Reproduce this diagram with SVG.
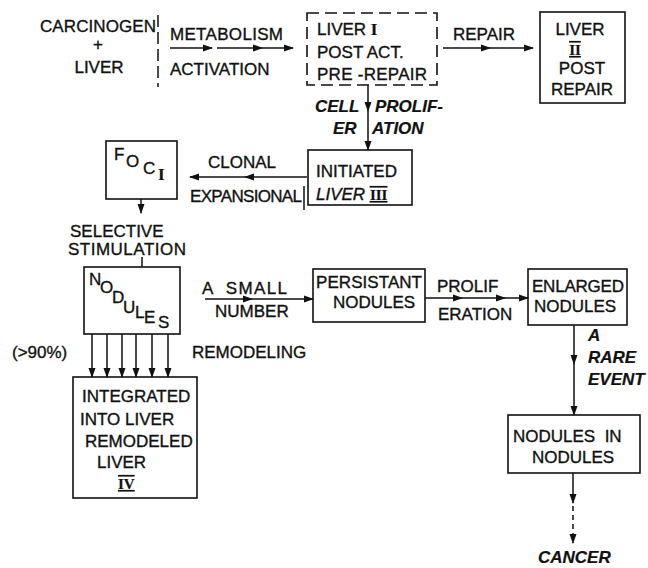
<svg xmlns="http://www.w3.org/2000/svg" width="648" height="568" viewBox="0 0 648 568">
<defs>
<marker id="ah" markerUnits="userSpaceOnUse" markerWidth="10" markerHeight="8" refX="9" refY="4" orient="auto">
<path d="M0,0.5 L10,4 L0,7.5 z" fill="#111"/>
</marker>
</defs>
<style>
text{font-family:"Liberation Sans",Arial,sans-serif;font-size:17px;fill:#111;stroke:#111;stroke-width:0.35}
.it{font-style:italic;font-weight:bold;stroke-width:0.2}
.i2{font-style:italic}
.rn{font-family:"Liberation Serif","Times New Roman",serif;font-weight:bold;stroke-width:0.2}
.sm{font-size:15px}
.box{fill:none;stroke:#111;stroke-width:1.6}
.dash{fill:none;stroke:#111;stroke-width:1.6;stroke-dasharray:12 6}
.c{fill:none;stroke:#111;stroke-width:1.5}
.ar{marker-end:url(#ah)}
.am{marker-mid:url(#ah);marker-end:url(#ah)}
</style>
<rect width="648" height="568" fill="#fff"/>

<g id="start">
<text x="40" y="32" textLength="116">CARCINOGEN</text>
<text x="98" y="50" text-anchor="middle">+</text>
<text x="99" y="73" text-anchor="middle">LIVER</text>
</g>
<g id="liver1">
<rect class="dash" x="307" y="13" width="130" height="72"/>
<text x="317" y="35">LIVER <tspan class="rn">I</tspan></text>
<text x="317" y="58">POST ACT.</text>
<text x="317" y="80" textLength="110">PRE -REPAIR</text>
</g>
<g id="liver2">
<rect class="box" x="540" y="12" width="85" height="91"/>
<text x="580" y="35" text-anchor="middle">LIVER</text>
<text x="575" y="55" text-anchor="middle" class="rn sm" text-decoration="underline overline">II</text>
<text x="582" y="74" text-anchor="middle">POST</text>
<text x="582" y="95" text-anchor="middle">REPAIR</text>
</g>
<g id="liver3">
<rect class="box" x="308" y="150" width="104" height="55"/>
<text x="316" y="177">INITIATED</text>
<text x="316" y="200"><tspan class="i2">LIVER</tspan> <tspan class="rn sm" text-decoration="underline overline">III</tspan></text>
</g>
<g id="foci">
<rect class="box" x="106" y="141" width="71" height="58"/>
<text x="114" y="160">F</text>
<text x="126" y="167">O</text>
<text x="143" y="174">C</text>
<text x="158" y="180" class="rn">I</text>
</g>
<g id="nodules">
<rect class="box" x="84" y="267" width="96" height="67"/>
<text x="89" y="285">N</text>
<text x="100" y="293">O</text>
<text x="112" y="303">D</text>
<text x="123" y="313">U</text>
<text x="135" y="318">L</text>
<text x="144" y="323">E</text>
<text x="158" y="328">S</text>
</g>
<g id="liver4">
<rect class="box" x="73" y="377" width="124" height="121"/>
<text x="82" y="402">INTEGRATED</text>
<text x="80" y="425">INTO LIVER</text>
<text x="85" y="447">REMODELED</text>
<text x="97" y="468">LIVER</text>
<text x="118" y="489" class="rn sm" text-decoration="underline overline">IV</text>
</g>
<g id="persistant">
<rect class="box" x="313" y="269" width="112" height="53"/>
<text x="316" y="288" textLength="106">PERSISTANT</text>
<text x="333" y="308">NODULES</text>
</g>
<g id="enlarged">
<rect class="box" x="528" y="269" width="99" height="56"/>
<text x="532" y="292" textLength="92">ENLARGED</text>
<text x="534" y="312">NODULES</text>
</g>
<g id="nin">
<rect class="box" x="508" y="415" width="132" height="58"/>
<text x="513" y="442" xml:space="preserve">NODULES  IN</text>
<text x="532" y="463">NODULES</text>
</g>
<g id="cancer">
<text x="538" y="563" class="it">CANCER</text>
</g>

<g id="connectors">
<line class="c" x1="158" y1="15" x2="158" y2="87" stroke-dasharray="12 5"/>
<path class="c ar" d="M170,48 L212,48"/>
<path class="c am" d="M217,48 L262,48 L293,48"/>
<path class="c am" d="M443,48 L490,48 L533,48"/>
<path class="c am" d="M368,85 L368,111 L368,150"/>
<path class="c am" d="M307,177 L245,177 L190,177"/>
<line class="c" x1="304" y1="186" x2="304" y2="210"/>
<path class="c ar" d="M141,199 L141,213"/>
<line class="c" x1="142" y1="257" x2="142" y2="267"/>
<path class="c ar" d="M92,334 L92,377"/>
<path class="c ar" d="M107,334 L107,377"/>
<path class="c ar" d="M122,334 L122,377"/>
<path class="c ar" d="M136,334 L136,377"/>
<path class="c ar" d="M152,334 L152,377"/>
<path class="c ar" d="M168,334 L168,377"/>
<path class="c am" d="M205,299 L252,299 L313,299"/>
<path class="c am" d="M425,298 L462,298 L505,298 L528,298"/>
<path class="c am" d="M574,325 L574,364 L574,415"/>
<path class="c ar" d="M573,473 L573,503"/>
<path class="c ar" d="M573,506 L573,543" stroke-dasharray="5 4"/>
<text x="170" y="40" textLength="113">METABOLISM</text>
<text x="170" y="75">ACTIVATION</text>
<text x="453" y="40">REPAIR</text>
<text x="315" y="112" class="it">CELL</text>
<text x="375" y="112" class="it">PROLIF-</text>
<text x="333" y="134" class="it">ER</text>
<text x="372" y="134" class="it">ATION</text>
<text x="208" y="168">CLONAL</text>
<text x="190" y="202" textLength="112">EXPANSIONAL</text>
<text x="70" y="237">SELECTIVE</text>
<text x="68" y="255" textLength="118">STIMULATION</text>
<text x="12" y="358">(&gt;90%)</text>
<text x="192" y="358">REMODELING</text>
<text x="202" y="294" xml:space="preserve" textLength="85">A  SMALL</text>
<text x="215" y="317">NUMBER</text>
<text x="437" y="292">PROLIF</text>
<text x="438" y="320">ERATION</text>
<text x="588" y="341" class="it">A</text>
<text x="588" y="363" class="it">RARE</text>
<text x="588" y="385" class="it">EVENT</text>
</g>
</svg>
